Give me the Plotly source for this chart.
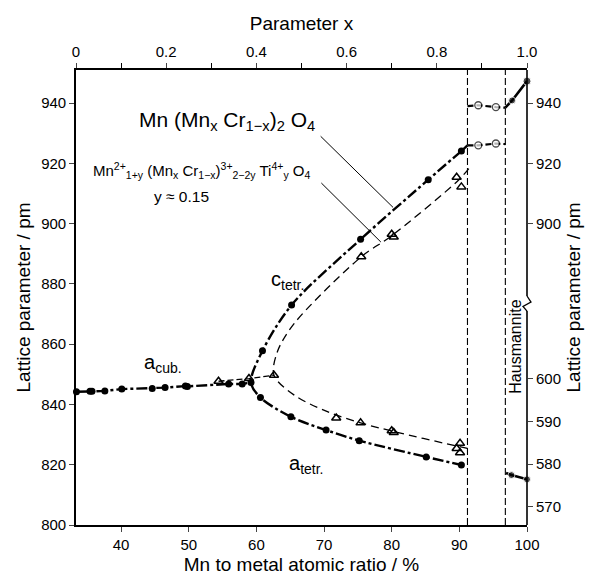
import math
import plotly.graph_objects as go

# ---------------- data ----------------
# Mn(MnxCr1-x)2O4 : cubic branch
acub_x = [33.4, 35.4, 35.7, 37.6, 40.1, 44.6, 46.5, 49.5, 49.8, 55.9, 57.9, 59.2]
acub_y = [844.2, 844.4, 844.4, 844.5, 845.1, 845.3, 845.6, 846.1, 846.0, 846.8, 846.8, 847.3]
# tetragonal c and a branches
ctetr_x = [60.9, 65.2, 75.4, 85.4, 90.3]
ctetr_y = [857.8, 873.0, 894.8, 914.6, 924.1]
atetr_x = [60.6, 65.1, 70.3, 75.2, 85.1, 90.3]
atetr_y = [842.3, 835.9, 831.5, 828.0, 822.6, 819.9]

# Ti-doped series (triangles)
ti_x = [54.4, 58.9, 62.6, 71.8, 75.4, 80.0, 80.3, 90.1, 89.6, 90.1, 75.5, 80.0, 80.3, 89.6, 90.3]
ti_y = [847.7, 848.6, 849.7, 835.5, 833.9, 831.3, 830.7, 827.1, 825.4, 824.0, 889.0, 896.5, 895.6, 915.4, 912.2]
# Ti-doped series guide curve
ti_curve_x = [91.4, 89.9, 80.0, 75.5, 65.6, 63.1, 62.6, 65.6, 70.5, 75.4, 80.0, 90.0, 91.2]
ti_curve_y = [918.3, 914.5, 896.0, 889.0, 866.9, 857.5, 849.7, 843.1, 837.6, 833.9, 831.2, 826.0, 825.4]
ti_cub_x = [54.4, 58.9, 62.6]
ti_cub_y = [847.7, 848.6, 849.7]

# two-phase region (open circles)
row_x = [91.2, 92.8, 95.4, 96.8]
row_hi = [939.0, 939.3, 938.7, 938.5]
row_lo = [926.0, 926.0, 926.6, 926.4]
row_sizes = [0, 7, 7, 0]

# Hausmannite
haus_c_x = [96.8, 97.8, 100.0]
haus_c_y = [938.5, 940.9, 947.3]
haus_c_sizes = [0, 7, 8]
haus_a_x = [96.9, 97.7, 100.0]
haus_a_y = [577.9, 577.4, 576.4]   # on the right-hand (I-cell) scale
haus_a_sizes = [0, 7, 7]

phase_bounds = [91.2, 96.8]

x_ticks = [40, 50, 60, 70, 80, 90, 100]
px_ticks = [0, 0.2, 0.4, 0.6, 0.8, 1.0]
px_labels = ["0", "0.2", "0.4", "0.6", "0.8", "1.0"]
y_ticks = [800, 820, 840, 860, 880, 900, 920, 940]
yr_ticks = [900, 920, 940]
yr2_ticks = [570, 580, 590, 600]

X_MIN, X_MAX = 100 / 3, 100.0
Y_MIN, Y_MAX = 800.0, 951.0
S2 = math.sqrt(2)
BREAK_Y = 874.0

FONT = "Liberation Sans, Arial, Helvetica, sans-serif"
K = "black"

fig = go.Figure()

main_dash = "11px,3px,3px,3px"

# main series lines
fig.add_trace(go.Scatter(x=acub_x, y=acub_y, mode="lines",
                         line=dict(color=K, width=2.4, dash=main_dash), hoverinfo="skip"))
nose_x = ctetr_x[::-1] + [acub_x[-1]] + atetr_x
nose_y = ctetr_y[::-1] + [acub_y[-1]] + atetr_y
fig.add_trace(go.Scatter(x=nose_x, y=nose_y, mode="lines",
                         line=dict(color=K, width=2.4, dash=main_dash, shape="spline", smoothing=0.9),
                         hoverinfo="skip"))
fig.add_trace(go.Scatter(x=[ctetr_x[-1], row_x[0]], y=[ctetr_y[-1], row_lo[0]], mode="lines",
                         line=dict(color=K, width=2.4), hoverinfo="skip"))

# Ti series lines
fig.add_trace(go.Scatter(x=ti_curve_x, y=ti_curve_y, mode="lines",
                         line=dict(color=K, width=1.3, dash="8px,5px", shape="spline", smoothing=0.9),
                         hoverinfo="skip"))
fig.add_trace(go.Scatter(x=ti_cub_x, y=ti_cub_y, mode="lines",
                         line=dict(color=K, width=1.3, dash="6px,3px"), hoverinfo="skip"))

# open circle rows
for ys in (row_hi, row_lo):
    fig.add_trace(go.Scatter(x=row_x, y=ys, mode="lines+markers",
                             line=dict(color=K, width=2.2, dash="6px,3px"),
                             marker=dict(symbol="circle", size=row_sizes, color="white",
                                         line=dict(color=K, width=1.3)),
                             hoverinfo="skip"))

# hausmannite c
fig.add_trace(go.Scatter(x=haus_c_x, y=haus_c_y, mode="lines+markers",
                         line=dict(color=K, width=2.6),
                         marker=dict(symbol="circle", size=haus_c_sizes, color=K),
                         cliponaxis=False, hoverinfo="skip"))
# hausmannite a (right lower scale)
fig.add_trace(go.Scatter(x=haus_a_x, y=haus_a_y, mode="lines+markers", yaxis="y3",
                         line=dict(color=K, width=2.6),
                         marker=dict(symbol="circle", size=haus_a_sizes, color=K),
                         cliponaxis=False, hoverinfo="skip"))

# markers main series
fig.add_trace(go.Scatter(x=acub_x + ctetr_x + atetr_x, y=acub_y + ctetr_y + atetr_y,
                         mode="markers", marker=dict(symbol="circle", size=7, color=K),
                         cliponaxis=False, hoverinfo="skip"))
# triangles
fig.add_trace(go.Scatter(x=ti_x, y=ti_y, mode="markers",
                         marker=dict(symbol="triangle-up-open", size=8, color=K, line=dict(width=1.5)),
                         cliponaxis=False, hoverinfo="skip"))

# invisible trace to activate top axis and right axis
fig.add_trace(go.Scatter(x=[0, 1], y=[Y_MIN, Y_MIN], xaxis="x2", mode="markers",
                         marker=dict(opacity=0), hoverinfo="skip"))
fig.add_trace(go.Scatter(x=[X_MIN], y=[Y_MIN], yaxis="y2", mode="markers",
                         marker=dict(opacity=0), hoverinfo="skip"))

tickfont = dict(family=FONT, size=15, color=K)

shapes = []
for xb in phase_bounds:
    shapes.append(dict(type="line", xref="x", yref="paper", x0=xb, x1=xb, y0=0, y1=1,
                       line=dict(color=K, width=1.1, dash="7px,3px")))
# right axis with break
shapes.append(dict(type="line", xref="paper", yref="y", x0=1, x1=1, y0=Y_MAX, y1=BREAK_Y + 2,
                   line=dict(color=K, width=1.6)))
shapes.append(dict(type="line", xref="paper", yref="y", x0=1, x1=1, y0=BREAK_Y - 3, y1=Y_MIN,
                   line=dict(color=K, width=1.6)))
shapes.append(dict(type="path", xref="paper", xsizemode="pixel", xanchor=1, yref="y",
                   path=f"M 0 {BREAK_Y + 2} L 4 {BREAK_Y} L -4 {BREAK_Y - 1.5} L 0 {BREAK_Y - 3}",
                   line=dict(color=K, width=1.3)))
# leader lines
shapes.append(dict(type="line", xref="x", yref="y", x0=69.5, y0=929.0, x1=80.2, y1=905.4,
                   line=dict(color=K, width=1)))
shapes.append(dict(type="line", xref="x", yref="y", x0=69.6, y0=913.5, x1=78.4, y1=893.9,
                   line=dict(color=K, width=1)))

annotations = [
    dict(text="Mn (Mn<sub>x</sub> Cr<sub>1−x</sub>)<sub>2</sub> O<sub>4</sub>", x=55.7, y=934.0,
         xref="x", yref="y", showarrow=False, font=dict(family=FONT, size=21, color=K)),
    dict(text="Mn<sup>2+</sup><sub>1+y</sub> (Mn<sub>x</sub> Cr<sub>1−x</sub>)<sup>3+</sup><sub>2−2y</sub> Ti<sup>4+</sup><sub>y</sub> O<sub>4</sub>",
         x=51.9, y=917.5, xref="x", yref="y", showarrow=False,
         font=dict(family=FONT, size=15, color=K)),
    dict(text="y ≈ 0.15", x=48.9, y=909.0, xref="x", yref="y", showarrow=False,
         font=dict(family=FONT, size=15.5, color=K)),
    dict(text="a<sub>cub.</sub>", x=46.2, y=853.5, xref="x", yref="y", showarrow=False,
         font=dict(family=FONT, size=20, color=K)),
    dict(text="c<sub>tetr.</sub>", x=64.6, y=881.0, xref="x", yref="y", showarrow=False,
         font=dict(family=FONT, size=20, color=K)),
    dict(text="a<sub>tetr.</sub>", x=67.4, y=820.0, xref="x", yref="y", showarrow=False,
         font=dict(family=FONT, size=20, color=K)),
    dict(text="Hausmannite", x=98.3, y=859.0, xref="x", yref="y", showarrow=False, textangle=-90,
         font=dict(family=FONT, size=16, color=K)),
    dict(text="Lattice parameter / pm", x=1, xref="paper", xshift=46, y=0.5, yref="paper",
         showarrow=False, textangle=-90, xanchor="center",
         font=dict(family=FONT, size=19, color=K)),
]

fig.update_layout(
    width=598, height=584,
    margin=dict(l=76, r=71, t=70, b=59),
    paper_bgcolor="white", plot_bgcolor="white",
    showlegend=False,
    font=dict(family=FONT, color=K),
    xaxis=dict(range=[X_MIN, X_MAX], tickvals=x_ticks, ticks="outside", ticklen=5, tickwidth=1.3,
               showline=True, linecolor=K, linewidth=1.6, showgrid=False, zeroline=False,
               tickfont=tickfont,
               title=dict(text="Mn to metal atomic ratio / %", font=dict(family=FONT, size=19, color=K),
                          standoff=6)),
    xaxis2=dict(range=[0, 1], overlaying="x", side="top", anchor="y", tickvals=px_ticks,
                ticktext=px_labels, ticks="outside", ticklen=5, tickwidth=1.3,
                minor=dict(dtick=0.1, ticks="outside", ticklen=5, tickwidth=1.3, tickcolor=K),
                showline=True, linecolor=K, linewidth=1.6, showgrid=False, zeroline=False,
                tickfont=tickfont,
                title=dict(text="Parameter x", font=dict(family=FONT, size=19, color=K), standoff=8)),
    yaxis=dict(range=[Y_MIN, Y_MAX], tickvals=y_ticks, ticks="outside", ticklen=5, tickwidth=1.3,
               showline=True, linecolor=K, linewidth=1.6, showgrid=False, zeroline=False,
               tickfont=tickfont,
               title=dict(text="Lattice parameter / pm", font=dict(family=FONT, size=19, color=K),
                          standoff=6)),
    yaxis2=dict(range=[Y_MIN, Y_MAX], overlaying="y", side="right", anchor="x", tickvals=yr_ticks,
                ticks="outside", ticklen=5, tickwidth=1.3, showline=False, showgrid=False,
                zeroline=False, tickfont=tickfont),
    yaxis3=dict(range=[Y_MIN / S2, Y_MAX / S2], overlaying="y", side="right", anchor="x",
                tickvals=yr2_ticks, ticks="outside", ticklen=5, tickwidth=1.3, showline=False,
                showgrid=False, zeroline=False, tickfont=tickfont),
    shapes=shapes,
    annotations=annotations,
)

fig.write_html("out.html")
